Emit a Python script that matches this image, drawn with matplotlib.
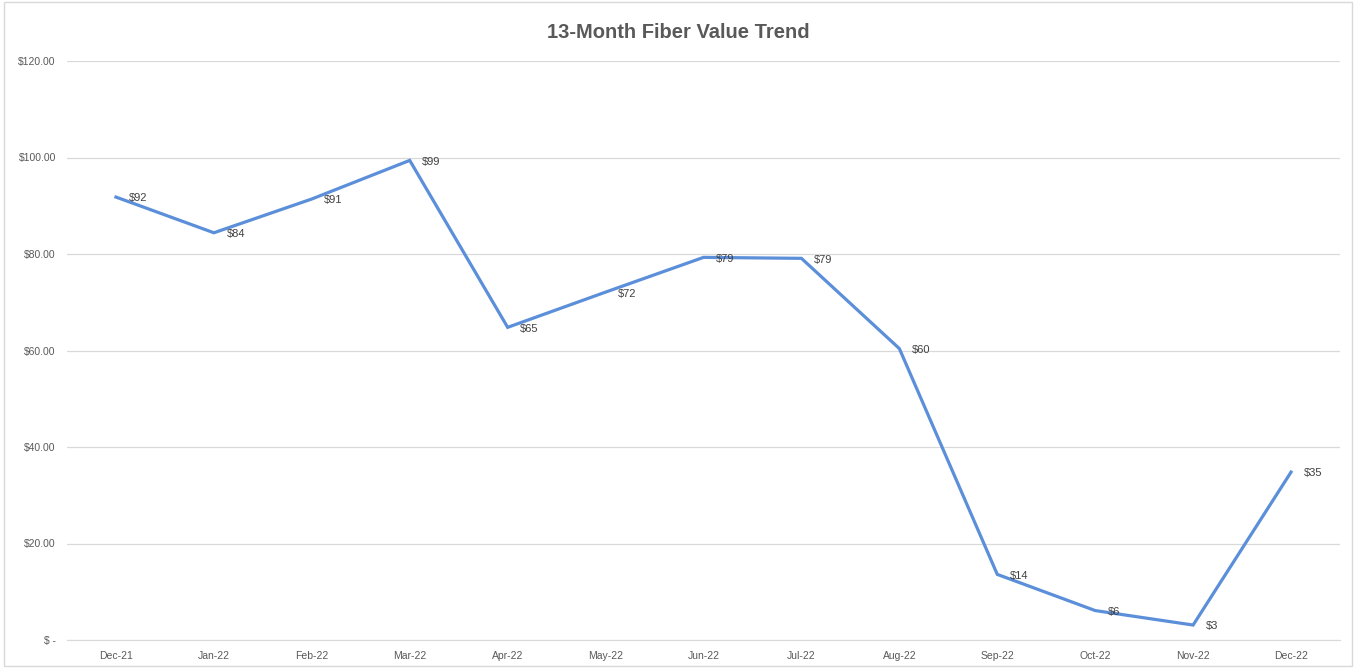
import matplotlib.pyplot as plt
import numpy as np

months = ['Dec-21', 'Jan-22', 'Feb-22', 'Mar-22', 'Apr-22', 'May-22', 'Jun-22',
          'Jul-22', 'Aug-22', 'Sep-22', 'Oct-22', 'Nov-22', 'Dec-22']
values = [91.8, 84.4, 91.4, 99.4, 64.8, 72.1, 79.3, 79.1, 60.4, 13.6, 6.1, 3.1, 34.8]
y_ticks = [0, 20, 40, 60, 80, 100, 120]
y_labels = ['$ -', '$20.00', '$40.00', '$60.00', '$80.00', '$100.00', '$120.00']

plt.rcParams['font.family'] = ['Liberation Sans', 'DejaVu Sans']

fig = plt.figure(figsize=(13.56, 6.68), dpi=100)
ax = fig.add_axes([67 / 1356, 1 - 640 / 668, (1340 - 67) / 1356, (640 - 61) / 668])

x = np.arange(len(months))
ax.plot(x, values, color='#5B8FD9', linewidth=2.3, solid_joinstyle='miter')
for xi, v in zip(x, values):
    ax.annotate(f'${v:.0f}', (xi, v), xytext=(9, -1), textcoords='offset points',
                ha='left', va='center', fontsize=8, color='#404040')

ax.set_xlim(-0.5, len(months) - 0.5)
ax.set_ylim(0, 120)
ax.set_xticks(x)
ax.set_xticklabels(months, fontsize=7.5, color='#595959')
ax.set_yticks(y_ticks)
ax.set_yticklabels(y_labels, fontsize=7.5, color='#595959')
ax.tick_params(length=0, pad=8)
ax.grid(axis='y', color='#D9D9D9', linewidth=0.9)
ax.set_axisbelow(True)
for s in ['top', 'right', 'left']:
    ax.spines[s].set_visible(False)
ax.spines['bottom'].set_color('#D9D9D9')

fig.text(678 / 1356, 1 - 32 / 668, '13-Month Fiber Value Trend', ha='center', va='center',
         fontsize=14.5, fontweight='bold', color='#595959')

fig.patches.append(plt.Rectangle((0.003, 0.003), 0.994, 0.994, transform=fig.transFigure,
                                 fill=False, edgecolor='#D9D9D9', linewidth=1))

fig.savefig('out.png', dpi=100)
